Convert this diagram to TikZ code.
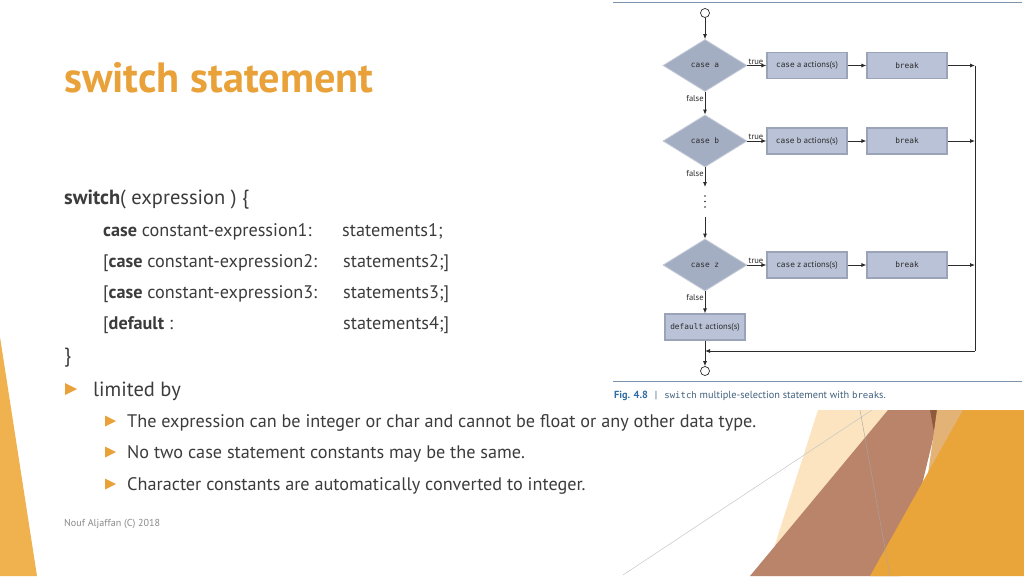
\documentclass[tikz,border=0pt]{standalone}
\usepackage{fontspec}
\setmainfont{PT Sans}
\setmonofont{DejaVu Sans Mono}
\usepackage{xcolor}
\usetikzlibrary{arrows, arrows.meta, shapes.geometric}

\definecolor{titleorange}{HTML}{E9A23A}
\definecolor{bodygray}{HTML}{3C3C3C}
\definecolor{footgray}{HTML}{8A8A8A}
\definecolor{stripe}{HTML}{F0B24F}
\definecolor{beige}{HTML}{FBE4BF}
\definecolor{clay}{HTML}{B9846A}
\definecolor{darkclay}{HTML}{8E5A3C}
\definecolor{tan}{HTML}{E2B277}
\definecolor{deeporange}{HTML}{E9A43A}
\definecolor{decfill}{HTML}{A4AEC3}
\definecolor{decedge}{HTML}{C3CAD8}
\definecolor{actfill}{HTML}{B9C2D6}
\definecolor{actedge}{HTML}{9AA3B8}
\definecolor{figline}{HTML}{2B2B2B}
\definecolor{figtext}{HTML}{2A2A2A}
\definecolor{rulecol}{HTML}{7B93AD}
\definecolor{capblue}{HTML}{2F6DA3}
\definecolor{capgray}{HTML}{40607F}

\newcommand{\kw}[1]{{\ttfamily\fontsize{7.8}{9}\selectfont #1}}

\tikzset{
  dec/.style={diamond, aspect=1.6, fill=decfill, draw=decedge, line width=0.8pt,
    minimum width=84, minimum height=52, inner sep=0pt,
    font=\ttfamily\fontsize{7.8}{9}\selectfont, text=figtext},
  act/.style={rectangle, fill=actfill, draw=actedge, line width=1.2pt,
    minimum width=80, minimum height=26, inner sep=1pt,
    font=\fontsize{8.5}{10}\selectfont, text=figtext},
  flow/.style={-{Latex[length=5pt,width=4pt]}, draw=figline, line width=0.8pt},
  term/.style={circle, draw=figline, fill=white, minimum size=9, inner sep=0pt, line width=0.7pt},
  lbl/.style={font=\fontsize{8.5}{9}\selectfont, text=figtext, inner sep=1pt},
  txt/.style={anchor=base west, inner sep=0pt, text=bodygray, font=\fontsize{18.2}{21}\selectfont},
  big/.style={txt, font=\fontsize{20.5}{24}\selectfont},
}

\begin{document}
\begin{tikzpicture}[x=1pt, y=-1pt]
\useasboundingbox (0,0) rectangle (1024,576);
\fill[white] (0,0) rectangle (1024,576);

%%%%%%%%%%%%%%%%%%%%%%%%%%%%%%%%%%%%%%%%%
% theme shapes
\fill[stripe] (0,337)--(37,576)--(0,576)--cycle;

\fill[beige] (818,410)--(895,410)--(800,576)--(765,576)--cycle;
\fill[clay] (888,410)--(940,410)--(900,576)--(750,576)--cycle;
\fill[darkclay] (930,410)--(940,410)--(934,432)--cycle;
\fill[tan] (937,410)--(965,410)--(925,495)--cycle;
\fill[deeporange] (963,410)--(1024,410)--(1024,576)--(870,576)--cycle;
\draw[black!22, line width=0.5pt] (623,575)--(872,410);
\draw[black!35, line width=0.4pt] (860,410)--(890,576);

%%%%%%%%%%%%%%%%%%%%%%%%%%%%%%%%%%%%%%%%%
% slide text
\node[anchor=base west, inner sep=0pt, text=titleorange, font=\fontsize{42.3}{46}\selectfont\bfseries] (title) at (64,92) {switch statement};

\node[big] (head) at (64,204) {\textbf{switch}( expression ) \{};

\node[txt] (c1) at (103,236) {\textbf{case} constant-expression1:};
\node[txt] (s1) at (342,236) {statements1;};
\node[txt] (c2) at (103,267) {[\textbf{case} constant-expression2:};
\node[txt] (s2) at (343,267) {statements2;]};
\node[txt] (c3) at (103,298) {[\textbf{case} constant-expression3:};
\node[txt] (s3) at (343,298) {statements3;]};
\node[txt] (c4) at (103,329) {[\textbf{default} :};
\node[txt] (s4) at (343,329) {statements4;]};

\node[big] (close) at (64,362) {\}};

\fill[titleorange] (65,383)--(77,389)--(65,395)--cycle;
\node[big] (lim) at (93,396) {limited by};

\fill[titleorange] (105,415.5)--(116,421)--(105,426.5)--cycle;
\node[txt] (p1) at (127,427) {The expression can be integer or char and cannot be float or any other data type.};
\fill[titleorange] (105,446.5)--(116,452)--(105,457.5)--cycle;
\node[txt] (p2) at (127,458) {No two case statement constants may be the same.};
\fill[titleorange] (105,478.5)--(116,484)--(105,489.5)--cycle;
\node[txt] (p3) at (127,490) {Character constants are automatically converted to integer.};

\node[anchor=base west, inner sep=0pt, text=footgray, font=\fontsize{10.1}{12}\selectfont] (foot) at (64,526) {Nouf Aljaffan (C) 2018};

%%%%%%%%%%%%%%%%%%%%%%%%%%%%%%%%%%%%%%%%%
% figure 4.8
\draw[rulecol, line width=1pt] (613,2)--(1022,2);
\draw[rulecol, line width=1pt] (613,381)--(1022,381);

\node[term] (start) at (705,13) {};

\node[dec] (deca) at (705,65.5) {case a};
\node[act] (acta) at (807,65.5) {\kw{case} a actions(s)};
\node[act] (brka) at (907,65.5) {\kw{break}};

\node[dec] (decb) at (705,141) {case b};
\node[act] (actb) at (807,141) {\kw{case} b actions(s)};
\node[act] (brkb) at (907,141) {\kw{break}};

\coordinate (dotstop) at (705,187);
\fill[figline] (705,196) circle (0.9);
\fill[figline] (705,201.5) circle (0.9);
\fill[figline] (705,207) circle (0.9);
\coordinate (dotsbot) at (705,217);

\node[dec] (decz) at (705,265) {case z};
\node[act] (actz) at (807,265) {\kw{case} z actions(s)};
\node[act] (brkz) at (907,265) {\kw{break}};

\node[act] (dflt) at (705,327) {\kw{default} actions(s)};
\node[term] (stop) at (705,371) {};

\coordinate (ra) at (975,65.5);
\coordinate (rb) at (975,141);
\coordinate (rz) at (975,265);
\coordinate (rbot) at (975,351);
\coordinate (join) at (705,351);

\draw[flow] (start) -- (deca);
\draw[flow] (deca) -- node[lbl, above, pos=0.45] {true} (acta);
\draw[flow] (acta) -- (brka);
\draw[flow] (brka) -- (ra);
\draw[flow] (deca) -- node[lbl, left, pos=0.3] {false} (decb);

\draw[flow] (decb) -- node[lbl, above, pos=0.45] {true} (actb);
\draw[flow] (actb) -- (brkb);
\draw[flow] (brkb) -- (rb);
\draw[flow] (decb) -- node[lbl, left, pos=0.3] {false} (dotstop);

\draw[flow] (dotsbot) -- (decz);
\draw[flow] (decz) -- node[lbl, above, pos=0.45] {true} (actz);
\draw[flow] (actz) -- (brkz);
\draw[flow] (brkz) -- (rz);
\draw[flow] (decz) -- node[lbl, left, pos=0.3] {false} (dflt);

\draw[figline, line width=0.8pt] (ra) -- (rbot);
\draw[flow] (rbot) -- (join);
\draw[flow] (dflt) -- (stop);

\node[anchor=base west, inner sep=0pt, font=\fontsize{10.3}{12}\selectfont] (cap) at (614,398)
  {\textcolor{capblue}{\textbf{Fig. 4.8}}\hspace{7pt}\textcolor{capgray}{|}\hspace{7pt}\textcolor{capgray}{{\ttfamily\fontsize{9}{11}\selectfont switch} multiple-selection statement with {\ttfamily\fontsize{9}{11}\selectfont break}s.}};

\end{tikzpicture}
\end{document}
